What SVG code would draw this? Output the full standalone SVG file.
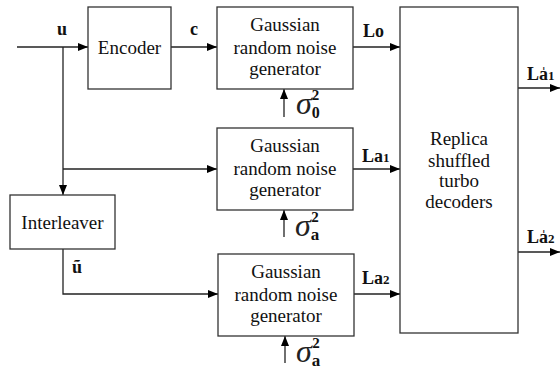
<svg xmlns="http://www.w3.org/2000/svg" width="560" height="380" viewBox="0 0 560 380">
<defs>
<marker id="ah" viewBox="0 0 10 8" refX="10" refY="4" markerWidth="10" markerHeight="8" markerUnits="userSpaceOnUse" orient="auto">
<path d="M0,0 L10,4 L0,8 z" fill="#000"/>
</marker>
<style>
.box{fill:#fff;stroke:#333;stroke-width:1.3}
.ln{fill:none;stroke:#222;stroke-width:1.3}
text{font-family:'Liberation Serif','Times New Roman','DejaVu Serif',serif}
.t{font-size:19px;fill:#111;text-anchor:middle}
.lb{font-size:18px;font-weight:bold;fill:#111}
.sg{font-size:32px;font-style:italic;fill:#222}
.sb{font-weight:bold;fill:#111}
</style>
</defs>
<rect width="560" height="380" fill="#fff"/>

<g id="connectors">
<path class="ln" d="M17,47 H88" marker-end="url(#ah)"/>
<path class="ln" d="M63,47 V195" marker-end="url(#ah)"/>
<path class="ln" d="M63,169 H217" marker-end="url(#ah)"/>
<path class="ln" d="M63,249 V294 H218" marker-end="url(#ah)"/>
<path class="ln" d="M171,47 H217" marker-end="url(#ah)"/>
<path class="ln" d="M353,47 H400" marker-end="url(#ah)"/>
<path class="ln" d="M353,169 H400" marker-end="url(#ah)"/>
<path class="ln" d="M354,294 H400" marker-end="url(#ah)"/>
<path class="ln" d="M518,88 H560" marker-end="url(#ah)"/>
<path class="ln" d="M518,252 H560" marker-end="url(#ah)"/>
<path class="ln" d="M284,117 V89" marker-end="url(#ah)"/>
<path class="ln" d="M284,237 V210" marker-end="url(#ah)"/>
<path class="ln" d="M285,363 V336" marker-end="url(#ah)"/>
</g>

<g id="labels">
<text class="lb" font-family="Liberation Serif, serif" x="57" y="35">u</text>
<text class="lb" font-family="Liberation Serif, serif" x="190" y="35">c</text>
<text class="lb" font-family="Liberation Serif, serif" x="72" y="273">ũ</text>
<text class="lb" font-family="Liberation Serif, serif" x="363" y="37">Lo</text>
<text class="lb" font-family="Liberation Serif, serif" x="362" y="162">La<tspan font-size="13">1</tspan></text>
<text class="lb" font-family="Liberation Serif, serif" x="362" y="284">La<tspan font-size="13">2</tspan></text>
<text class="lb" font-family="Liberation Serif, serif" x="527" y="80">La̍<tspan font-size="13">1</tspan></text>
<text class="lb" font-family="Liberation Serif, serif" x="527" y="243">La̍<tspan font-size="13">2</tspan></text>
<text font-family="Liberation Serif, serif" x="296" y="114"><tspan class="sg">σ</tspan><tspan class="sb" font-size="16" dy="4">0</tspan><tspan class="sb" font-size="15" dx="-8" dy="-18">2</tspan></text>
<text font-family="Liberation Serif, serif" x="295" y="236"><tspan class="sg">σ</tspan><tspan class="sb" font-size="17" dy="4">a</tspan><tspan class="sb" font-size="15" dx="-8" dy="-18">2</tspan></text>
<text font-family="Liberation Serif, serif" x="296" y="362"><tspan class="sg">σ</tspan><tspan class="sb" font-size="17" dy="4">a</tspan><tspan class="sb" font-size="15" dx="-8" dy="-18">2</tspan></text>
</g>

<g id="encoder">
<rect class="box" x="88" y="7" width="83" height="82"/>
<text class="t" font-family="Liberation Serif, serif" x="129.5" y="54">Encoder</text>
</g>

<g id="gen1">
<rect class="box" x="217" y="7" width="136" height="82"/>
<text class="t" font-family="Liberation Serif, serif" x="285" y="31">Gaussian</text>
<text class="t" font-family="Liberation Serif, serif" x="285" y="54">random noise</text>
<text class="t" font-family="Liberation Serif, serif" x="285" y="75">generator</text>
</g>

<g id="gen2">
<rect class="box" x="217" y="128" width="136" height="82"/>
<text class="t" font-family="Liberation Serif, serif" x="285" y="152">Gaussian</text>
<text class="t" font-family="Liberation Serif, serif" x="285" y="175">random noise</text>
<text class="t" font-family="Liberation Serif, serif" x="285" y="196">generator</text>
</g>

<g id="gen3">
<rect class="box" x="218" y="254" width="136" height="82"/>
<text class="t" font-family="Liberation Serif, serif" x="286" y="278">Gaussian</text>
<text class="t" font-family="Liberation Serif, serif" x="286" y="301">random noise</text>
<text class="t" font-family="Liberation Serif, serif" x="286" y="322">generator</text>
</g>

<g id="interleaver">
<rect class="box" x="10" y="195" width="105" height="54"/>
<text class="t" font-family="Liberation Serif, serif" x="62.5" y="229">Interleaver</text>
</g>

<g id="decoder">
<rect class="box" x="400" y="7" width="118" height="326"/>
<text class="t" font-family="Liberation Serif, serif" x="459" y="145">Replica</text>
<text class="t" font-family="Liberation Serif, serif" x="459" y="167">shuffled</text>
<text class="t" font-family="Liberation Serif, serif" x="459" y="187">turbo</text>
<text class="t" font-family="Liberation Serif, serif" x="459" y="208">decoders</text>
</g>
</svg>
